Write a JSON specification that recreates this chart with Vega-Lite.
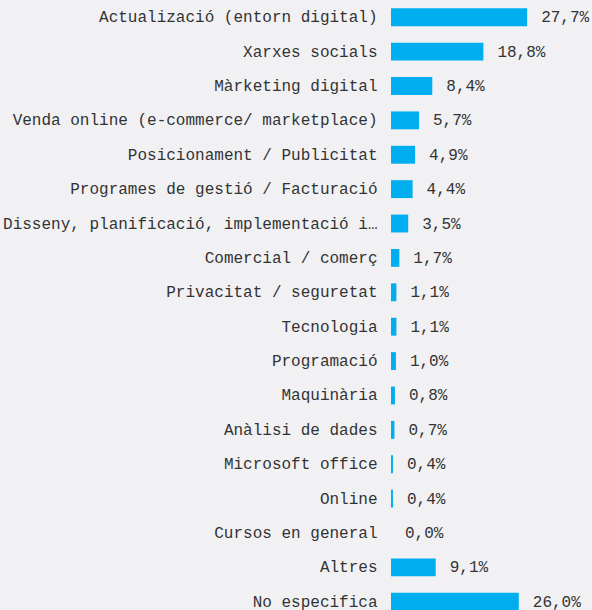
{
  "$schema": "https://vega.github.io/schema/vega-lite/v6.json",
  "autosize": {"type": "none"},
  "padding": {"left": 391, "right": 0, "top": 0, "bottom": 0},
  "width": 201,
  "height": 619,
  "background": "#f1f1f4",
  "config": {
    "view": {"stroke": null},
    "locale": {"number": {"decimal": ",", "thousands": ".", "grouping": [3], "currency": ["", " €"]}},
    "font": "Courier New, Liberation Mono, monospace"
  },
  "data": {
    "values": [
      {"cat": "Actualizació (entorn digital)", "v": 0.277},
      {"cat": "Xarxes socials", "v": 0.188},
      {"cat": "Màrketing digital", "v": 0.084},
      {"cat": "Venda online (e-commerce/ marketplace)", "v": 0.057},
      {"cat": "Posicionament / Publicitat", "v": 0.049},
      {"cat": "Programes de gestió / Facturació", "v": 0.044},
      {"cat": "Disseny, planificació, implementació i manteniment web", "v": 0.035},
      {"cat": "Comercial / comerç", "v": 0.017},
      {"cat": "Privacitat / seguretat", "v": 0.011},
      {"cat": "Tecnologia", "v": 0.011},
      {"cat": "Programació", "v": 0.010},
      {"cat": "Maquinària", "v": 0.008},
      {"cat": "Anàlisi de dades", "v": 0.007},
      {"cat": "Microsoft office", "v": 0.004},
      {"cat": "Online", "v": 0.004},
      {"cat": "Cursos en general", "v": 0.0},
      {"cat": "Altres", "v": 0.091},
      {"cat": "No especifica", "v": 0.260}
    ]
  },
  "encoding": {
    "y": {
      "field": "cat", "type": "nominal", "sort": null, "title": null,
      "scale": {"paddingInner": 0.48, "paddingOuter": 0.24},
      "axis": {"ticks": false, "domain": false, "labelPadding": 14, "labelFontSize": 16, "labelFont": "Courier New, Liberation Mono, monospace", "labelColor": "#333333", "labelLimit": 376}
    },
    "x": {
      "field": "v", "type": "quantitative", "title": null,
      "scale": {"domain": [0, 0.409], "nice": false},
      "axis": null
    }
  },
  "layer": [
    {"mark": {"type": "bar", "color": "#00aeef"}},
    {
      "mark": {"type": "text", "align": "left", "baseline": "middle", "dx": 14, "fontSize": 16, "font": "Courier New, Liberation Mono, monospace", "color": "#333333"},
      "encoding": {"text": {"field": "v", "type": "quantitative", "format": ".1%"}}
    }
  ]
}
